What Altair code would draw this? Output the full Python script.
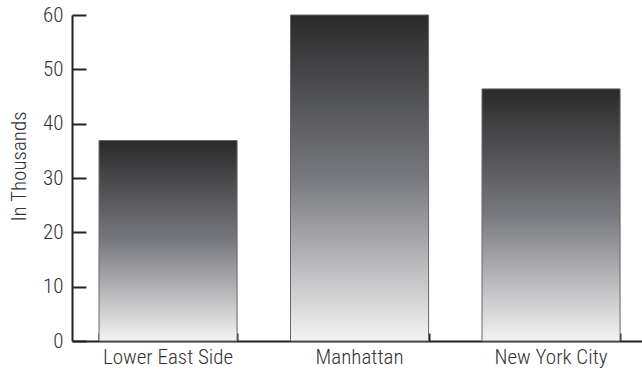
import altair as alt
import pandas as pd

categories = ["Lower East Side", "Manhattan", "New York City"]
values = [36.9, 60.0, 46.4]

df = pd.DataFrame({"area": categories, "value": values})

FONT = "Roboto Condensed, Roboto"
TXT = "#333333"
FS = 21
FW = 300

grad = alt.Gradient(
    gradient="linear",
    stops=[
        alt.GradientStop(color="#2a2a2a", offset=0),
        alt.GradientStop(color="#78797e", offset=0.5),
        alt.GradientStop(color="#f3f3f3", offset=1),
    ],
    x1=0, x2=0, y1=0, y2=1,
)

xscale = alt.Scale(paddingInner=0.279, paddingOuter=0.1278, align=0.552)
yscale = alt.Scale(domain=[0, 60])

bars = alt.Chart(df).mark_bar(color=grad, stroke="#666666", strokeWidth=1).encode(
    x=alt.X("area:N", sort=categories, scale=xscale,
            axis=alt.Axis(title=None, orient="bottom", ticks=False, tickSize=0,
                          labelPadding=5, labelAngle=0, labelFont=FONT, labelFontSize=FS,
                          labelFontWeight=FW,
                          labelColor=TXT, domainColor="#222222", domainWidth=2)),
    y=alt.Y("value:Q", scale=yscale,
            axis=alt.Axis(title="In Thousands", orient="left", ticks=False, tickSize=0,
                          values=[0, 10, 20, 30, 40, 50, 60], labelPadding=9,
                          labelFont=FONT, labelFontSize=FS, labelFontWeight=FW, labelColor=TXT,
                          titleFont=FONT, titleFontSize=FS, titleFontWeight=FW,
                          titleColor=TXT, titlePadding=13, titleY=151, grid=False,
                          domainColor="#222222", domainWidth=2)),
)

ticks_layer = alt.Chart(df).mark_bar(opacity=0).encode(
    x=alt.X("area:N", sort=categories, scale=xscale,
            axis=alt.Axis(title=None, orient="top", offset=-326, labels=False, domain=False,
                          ticks=True, tickSize=8, tickWidth=2, tickColor="#222222",
                          tickBand="extent")),
    y=alt.Y("value:Q", scale=yscale,
            axis=alt.Axis(title=None, orient="right", offset=-570, labels=False, domain=False,
                          ticks=True, tickSize=14, tickWidth=2, tickColor="#222222",
                          values=[0, 10, 20, 30, 40, 50, 60], grid=False)),
)

chart = (
    alt.layer(bars, ticks_layer)
    .resolve_axis(x="independent", y="independent")
    .properties(
        width=570,
        height=326,
        autosize=alt.AutoSizeParams(type="none"),
        padding={"left": 72, "top": 15, "right": 0, "bottom": 29},
        background="white",
    )
    .configure_view(stroke=None)
)

chart.save("out.html", embed_options={"renderer": "svg", "actions": False})
